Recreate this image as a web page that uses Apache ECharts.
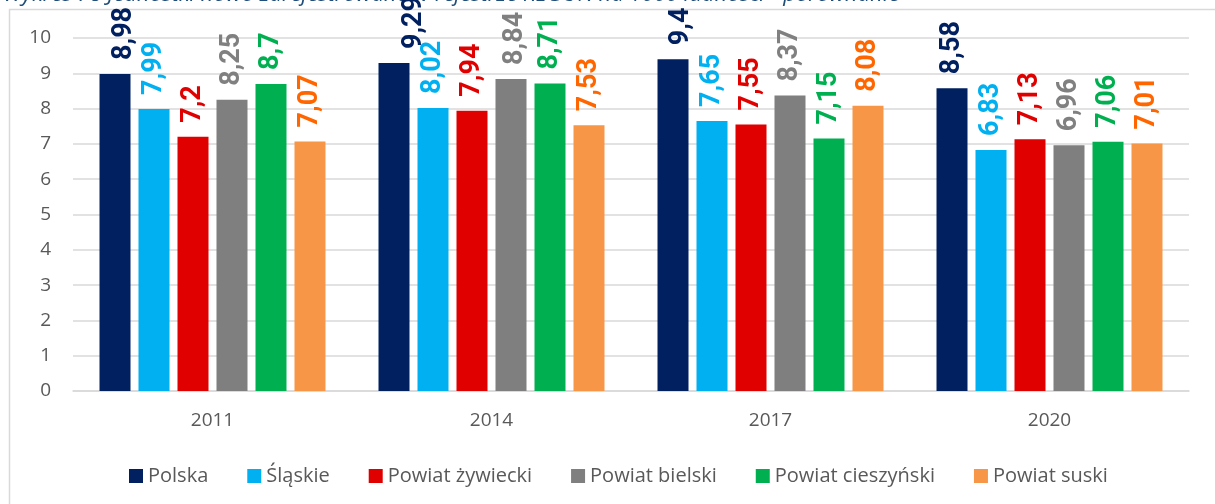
<!DOCTYPE html>
<html lang="pl">
<head>
<meta charset="utf-8">
<title>Jednostki nowo zarejestrowane w rejestrze REGON na 1000 ludności</title>
<script src="https://cdn.jsdelivr.net/npm/echarts@6/dist/echarts.min.js"></script>
<style>
  html, body { margin: 0; padding: 0; background: #ffffff; }
  #chart { width: 1215px; height: 504px; }
</style>
</head>
<body>
<div id="chart"></div>
<script>
// Lata i wartości (jednostki nowo zarejestrowane w REGON na 1000 ludności)
const years = ['2011', '2014', '2017', '2020'];
const seriesNames = ['Polska', 'Śląskie', 'Powiat żywiecki', 'Powiat bielski', 'Powiat cieszyński', 'Powiat suski'];
const polska = [8.98, 9.29, 9.4, 8.58];
const slaskie = [7.99, 8.02, 7.65, 6.83];
const zywiecki = [7.2, 7.94, 7.55, 7.13];
const bielski = [8.25, 8.84, 8.37, 6.96];
const cieszynski = [8.7, 8.71, 7.15, 7.06];
const suski = [7.07, 7.53, 8.08, 7.01];
const yTicks = [0, 10, 1]; // min, max, interval

const values = [polska, slaskie, zywiecki, bielski, cieszynski, suski];
const barColors = ['#002060', '#00B0F0', '#E00000', '#7F7F7F', '#00B050', '#F79646'];
const labelColors = ['#002060', '#00B0F0', '#E00000', '#808080', '#00B050', '#FF6600'];

const chart = echarts.init(document.getElementById('chart'), null, { renderer: 'canvas' });

const LABEL_DISTANCE = 14;
const LABEL_TOP_LIMIT = 16;

const series = values.map(function (data, i) {
  return {
    name: seriesNames[i],
    type: 'bar',
    data: data,
    barWidth: 31,
    barGap: '25.8%',
    itemStyle: { color: barColors[i] },
    label: {
      show: true,
      position: 'top',
      rotate: 90,
      align: 'left',
      verticalAlign: 'middle',
      distance: LABEL_DISTANCE,
      color: labelColors[i],
      fontFamily: 'Roboto, "Noto Sans", sans-serif',
      fontWeight: 'bold',
      fontSize: 27,
      formatter: function (p) { return String(p.value).replace('.', ','); }
    },
    // keep value labels inside the chart frame, pushing tall ones down
    labelLayout: function (p) {
      const len = Math.max(p.labelRect.width, p.labelRect.height);
      const top = p.rect.y - LABEL_DISTANCE - len;
      if (top < LABEL_TOP_LIMIT) {
        return { dy: LABEL_TOP_LIMIT - top };
      }
      return {};
    },
    emphasis: { disabled: true }
  };
});

chart.setOption({
  animation: false,
  backgroundColor: '#ffffff',
  textStyle: { fontFamily: '"Open Sans", sans-serif' },
  graphic: [
    {
      type: 'rect',
      silent: true,
      shape: { x: 9.5, y: 9.5, width: 1300, height: 700 },
      style: { fill: 'none', stroke: '#D9D9D9', lineWidth: 1.5 },
      z: -1
    },
    {
      type: 'text',
      silent: true,
      left: 3,
      top: -16,
      style: {
        text: 'Wykres 78 Jednostki nowo zarejestrowane w rejestrze REGON na 1000 ludności - porównanie',
        fill: '#1F4E79',
        font: 'italic 22px "Open Sans", sans-serif'
      }
    }
  ],
  grid: { left: 73, right: 26, top: 38, bottom: 113 },
  legend: {
    data: seriesNames,
    left: 129,
    top: 466,
    padding: 0,
    icon: 'rect',
    itemWidth: 14,
    itemHeight: 14,
    itemGap: 39,
    textStyle: { color: '#595959', fontSize: 20, fontFamily: '"Open Sans", sans-serif' }
  },
  xAxis: {
    type: 'category',
    data: years,
    axisLine: { lineStyle: { color: '#D9D9D9', width: 1.5 } },
    axisTick: { show: false },
    axisLabel: { color: '#595959', fontSize: 19, margin: 20, fontFamily: '"Open Sans", sans-serif' }
  },
  yAxis: {
    type: 'value',
    min: yTicks[0],
    max: yTicks[1],
    interval: yTicks[2],
    axisLine: { show: false },
    axisTick: { show: false },
    axisLabel: { color: '#595959', fontSize: 19, margin: 22, fontFamily: '"Open Sans", sans-serif' },
    splitLine: { lineStyle: { color: '#D9D9D9', width: 1.5 } }
  },
  series: series
});
</script>
</body>
</html>
